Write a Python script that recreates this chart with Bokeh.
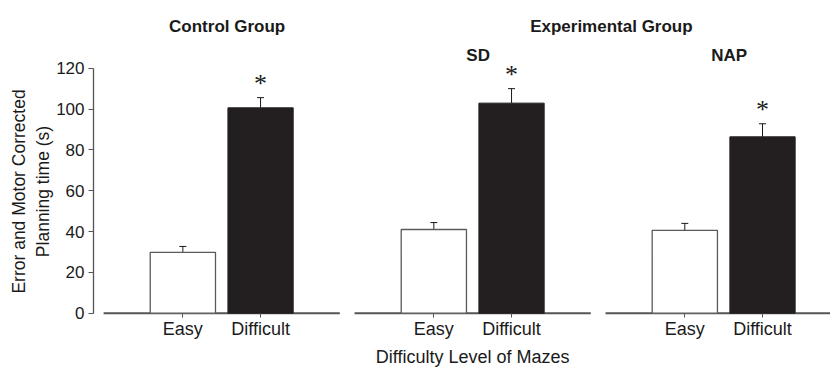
from bokeh.plotting import figure
from bokeh.models import (ColumnDataSource, Range1d, FixedTicker, Label,
                          LinearAxis, Whisker, TeeHead)
from bokeh.core.properties import value
from bokeh.embed import file_html
from bokeh.resources import INLINE

# Mean planning time (s) and SEM for each group and maze difficulty
groups = ["Control Group", "SD", "NAP"]
levels = ["Easy", "Difficult"]
easy_means = [29.8, 41.0, 40.6]
easy_sem = [2.9, 3.4, 3.4]
difficult_means = [100.6, 102.9, 86.4]
difficult_sem = [5.0, 7.1, 6.4]
y_ticks = [0, 20, 40, 60, 80, 100, 120]

FONT = "Liberation Sans"
INK = "#1a1a1a"
AXIS = "#555555"
DARK_BAR = "#231f20"

# horizontal layout in data units (bar spacing = 100)
GROUP_STEP = 323
BAR_OFFSET = 50
BAR_WIDTH = 84
BASE_HALF = 152

group_x = [i * GROUP_STEP for i in range(len(groups))]
easy_x = [g - BAR_OFFSET for g in group_x]
diff_x = [g + BAR_OFFSET for g in group_x]

# the frame reaches past the value axis so headings and the axis title
# sit inside it; the axes themselves are bounded to 0..120
p = figure(width=830, height=370, output_backend="svg", toolbar_location=None,
           x_range=Range1d(-165, 783.5), y_range=Range1d(-28.07, 147.3),
           min_border_left=93, min_border_right=0, min_border_top=12,
           min_border_bottom=0, x_axis_location=None)
p.outline_line_color = None
p.xgrid.visible = False
p.ygrid.visible = False
p.background_fill_color = "white"
p.border_fill_color = "white"

# y axis
yax = p.yaxis[0]
yax.bounds = (0, 120)
yax.ticker = FixedTicker(ticks=y_ticks)
yax.minor_tick_line_color = None
yax.major_tick_in = 0
yax.major_tick_out = 5
yax.axis_line_color = AXIS
yax.axis_line_width = 1.3
yax.major_tick_line_color = AXIS
yax.major_label_text_font = FONT
yax.major_label_text_font_size = "17px"
yax.major_label_text_color = INK
yax.major_label_standoff = 4
yax.axis_label = "Error and Motor Corrected\nPlanning time (s)"
yax.axis_label_text_font = FONT
yax.axis_label_text_font_size = "17.5px"
yax.axis_label_text_font_style = "normal"
yax.axis_label_text_color = INK
yax.axis_label_standoff = 0

# x axis pinned at zero: tick labels only, baselines drawn per panel
xax = LinearAxis(fixed_location=0)
tick_pos = sorted(easy_x + diff_x)
xax.ticker = FixedTicker(ticks=tick_pos)
overrides = {}
for e, d in zip(easy_x, diff_x):
    overrides[e] = levels[0]
    overrides[d] = levels[1]
xax.major_label_overrides = overrides
xax.minor_tick_line_color = None
xax.axis_line_color = None
xax.major_tick_in = 0
xax.major_tick_out = 4
xax.major_tick_line_color = AXIS
xax.major_label_text_font = FONT
xax.major_label_text_font_size = "18px"
xax.major_label_text_color = INK
xax.major_label_standoff = 2
p.add_layout(xax, "below")

# panel baselines
p.segment(x0=[g - BASE_HALF for g in group_x], y0=[0] * 3,
          x1=[g + BASE_HALF for g in group_x], y1=[0] * 3,
          line_color=AXIS, line_width=2)

easy_src = ColumnDataSource(dict(x=easy_x, top=easy_means,
                                 upper=[m + s for m, s in zip(easy_means, easy_sem)]))
diff_src = ColumnDataSource(dict(x=diff_x, top=difficult_means,
                                 upper=[m + s for m, s in zip(difficult_means, difficult_sem)]))

# error bars (upper half only)
for src in (easy_src, diff_src):
    p.add_layout(Whisker(source=src, base="x", lower="top", upper="upper",
                         line_color=INK, line_width=1,
                         upper_head=TeeHead(size=7, line_color=INK, line_width=1),
                         lower_head=None, level="underlay"))

p.vbar(x="x", top="top", bottom=0, width=BAR_WIDTH, source=easy_src,
       fill_color="white", line_color="#5a5a5a", line_width=1.3)
p.vbar(x="x", top="top", bottom=0, width=BAR_WIDTH, source=diff_src,
       fill_color=DARK_BAR, line_color=DARK_BAR, line_width=1)

# significance markers above the difficult bars
ASTERISK_GAP = 7
p.text(x=diff_x, y=[u + ASTERISK_GAP for u in diff_src.data["upper"]],
       text=["*"] * 3, text_align="center", text_baseline="middle",
       text_font=value("Liberation Serif"), text_font_size="26px",
       text_color=INK)

# panel headings
TITLE_Y = 140.4
SUB_Y = 126.0
TITLE_NUDGE = 7


def heading(text, x, y):
    p.add_layout(Label(x=x, y=y, text=text, text_align="center",
                       text_baseline="middle", text_font=FONT,
                       text_font_size="17px", text_font_style="bold",
                       text_color=INK))


heading(groups[0], group_x[0] + TITLE_NUDGE, TITLE_Y)
heading("Experimental Group", (group_x[1] + group_x[2]) / 2 + 17, TITLE_Y)
heading(groups[1], group_x[1] + TITLE_NUDGE, SUB_Y)
heading(groups[2], group_x[2] + TITLE_NUDGE, SUB_Y)

p.add_layout(Label(x=group_x[1], y=-21.7, text="Difficulty Level of Mazes",
                   text_align="center", text_baseline="middle", text_font=FONT,
                   text_font_size="18px", text_color=INK))

open("out.html", "w").write(file_html(p, INLINE))
